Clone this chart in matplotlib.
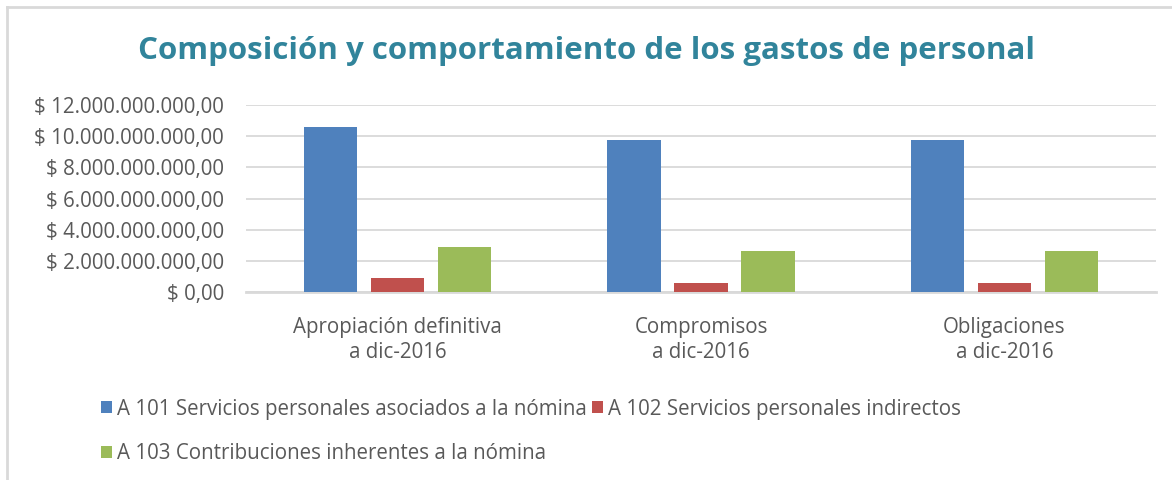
import numpy as np
import matplotlib
matplotlib.use("Agg")
import matplotlib.pyplot as plt
from matplotlib.ticker import FuncFormatter

# Data
categories = ["Apropiación definitiva\na dic-2016", "Compromisos\na dic-2016", "Obligaciones\na dic-2016"]
series_names = ["A 101 Servicios personales asociados a la nómina",
                "A 102 Servicios personales indirectos",
                "A 103 Contribuciones inherentes a la nómina"]
a101 = [10.6e9, 9.75e9, 9.75e9]
a102 = [0.9e9, 0.6e9, 0.6e9]
a103 = [2.87e9, 2.62e9, 2.62e9]
colors = ["#4F81BD", "#C0504D", "#9BBB59"]

plt.rcParams['font.family'] = ['Open Sans', 'DejaVu Sans']

fig = plt.figure(figsize=(11.72, 4.8), dpi=100)
ax = fig.add_axes([246/1172, 1 - 292/480, 910/1172, 187/480])

x = np.arange(len(categories))
width = 0.175
offset = 0.221
handles = []
for i, (vals, name, c) in enumerate(zip([a101, a102, a103], series_names, colors)):
    b = ax.bar(x + (i - 1) * offset, vals, width, color=c, label=name, zorder=3)
    handles.append(b)

def money(v, pos):
    s = f"{v:,.2f}".replace(",", "X").replace(".", ",").replace("X", ".")
    return "$ " + s

ax.set_ylim(0, 12e9)
ax.set_xlim(-0.5, 2.5)
ax.set_yticks(np.arange(0, 12.1e9, 2e9))
ax.yaxis.set_major_formatter(FuncFormatter(money))
ax.set_xticks(x)
ax.set_xticklabels(categories, fontsize=14.8, color="#595959", linespacing=1.25)
ax.tick_params(axis='y', labelsize=14.8, labelcolor="#595959", length=0, pad=16)
ax.tick_params(axis='x', length=0, pad=18)
ax.grid(axis='y', color="#D9D9D9", linewidth=1.3, zorder=0)
for s in ["top", "right", "left"]:
    ax.spines[s].set_visible(False)
ax.spines["bottom"].set_color("#D9D9D9")
ax.spines["bottom"].set_linewidth(2)

fig.text(0.5, 1 - 51/480, "Composición y comportamiento de los gastos de personal",
         ha="center", va="center", fontsize=22.5, fontweight="bold", color="#31849B")

# order so that column-major fill gives A101, A102 on row 1 and A103 on row 2
order = [0, 2, 1]
fig.legend([handles[k] for k in order], [series_names[k] for k in order],
           loc="upper left", bbox_to_anchor=(82/1172, 1 - 380/480), ncol=2,
           frameon=False, fontsize=14.8, labelcolor="#595959",
           handlelength=0.55, handleheight=0.55, handletextpad=0.25,
           columnspacing=0.25, labelspacing=1.15)

# chart border (left and top visible)
fig.add_artist(plt.Line2D([7/1172, 7/1172], [0, 1 - 7/480], color="#D9D9D9", lw=2, transform=fig.transFigure))
fig.add_artist(plt.Line2D([7/1172, 1], [1 - 7/480, 1 - 7/480], color="#D9D9D9", lw=2, transform=fig.transFigure))

fig.savefig("out.png", dpi=100)
